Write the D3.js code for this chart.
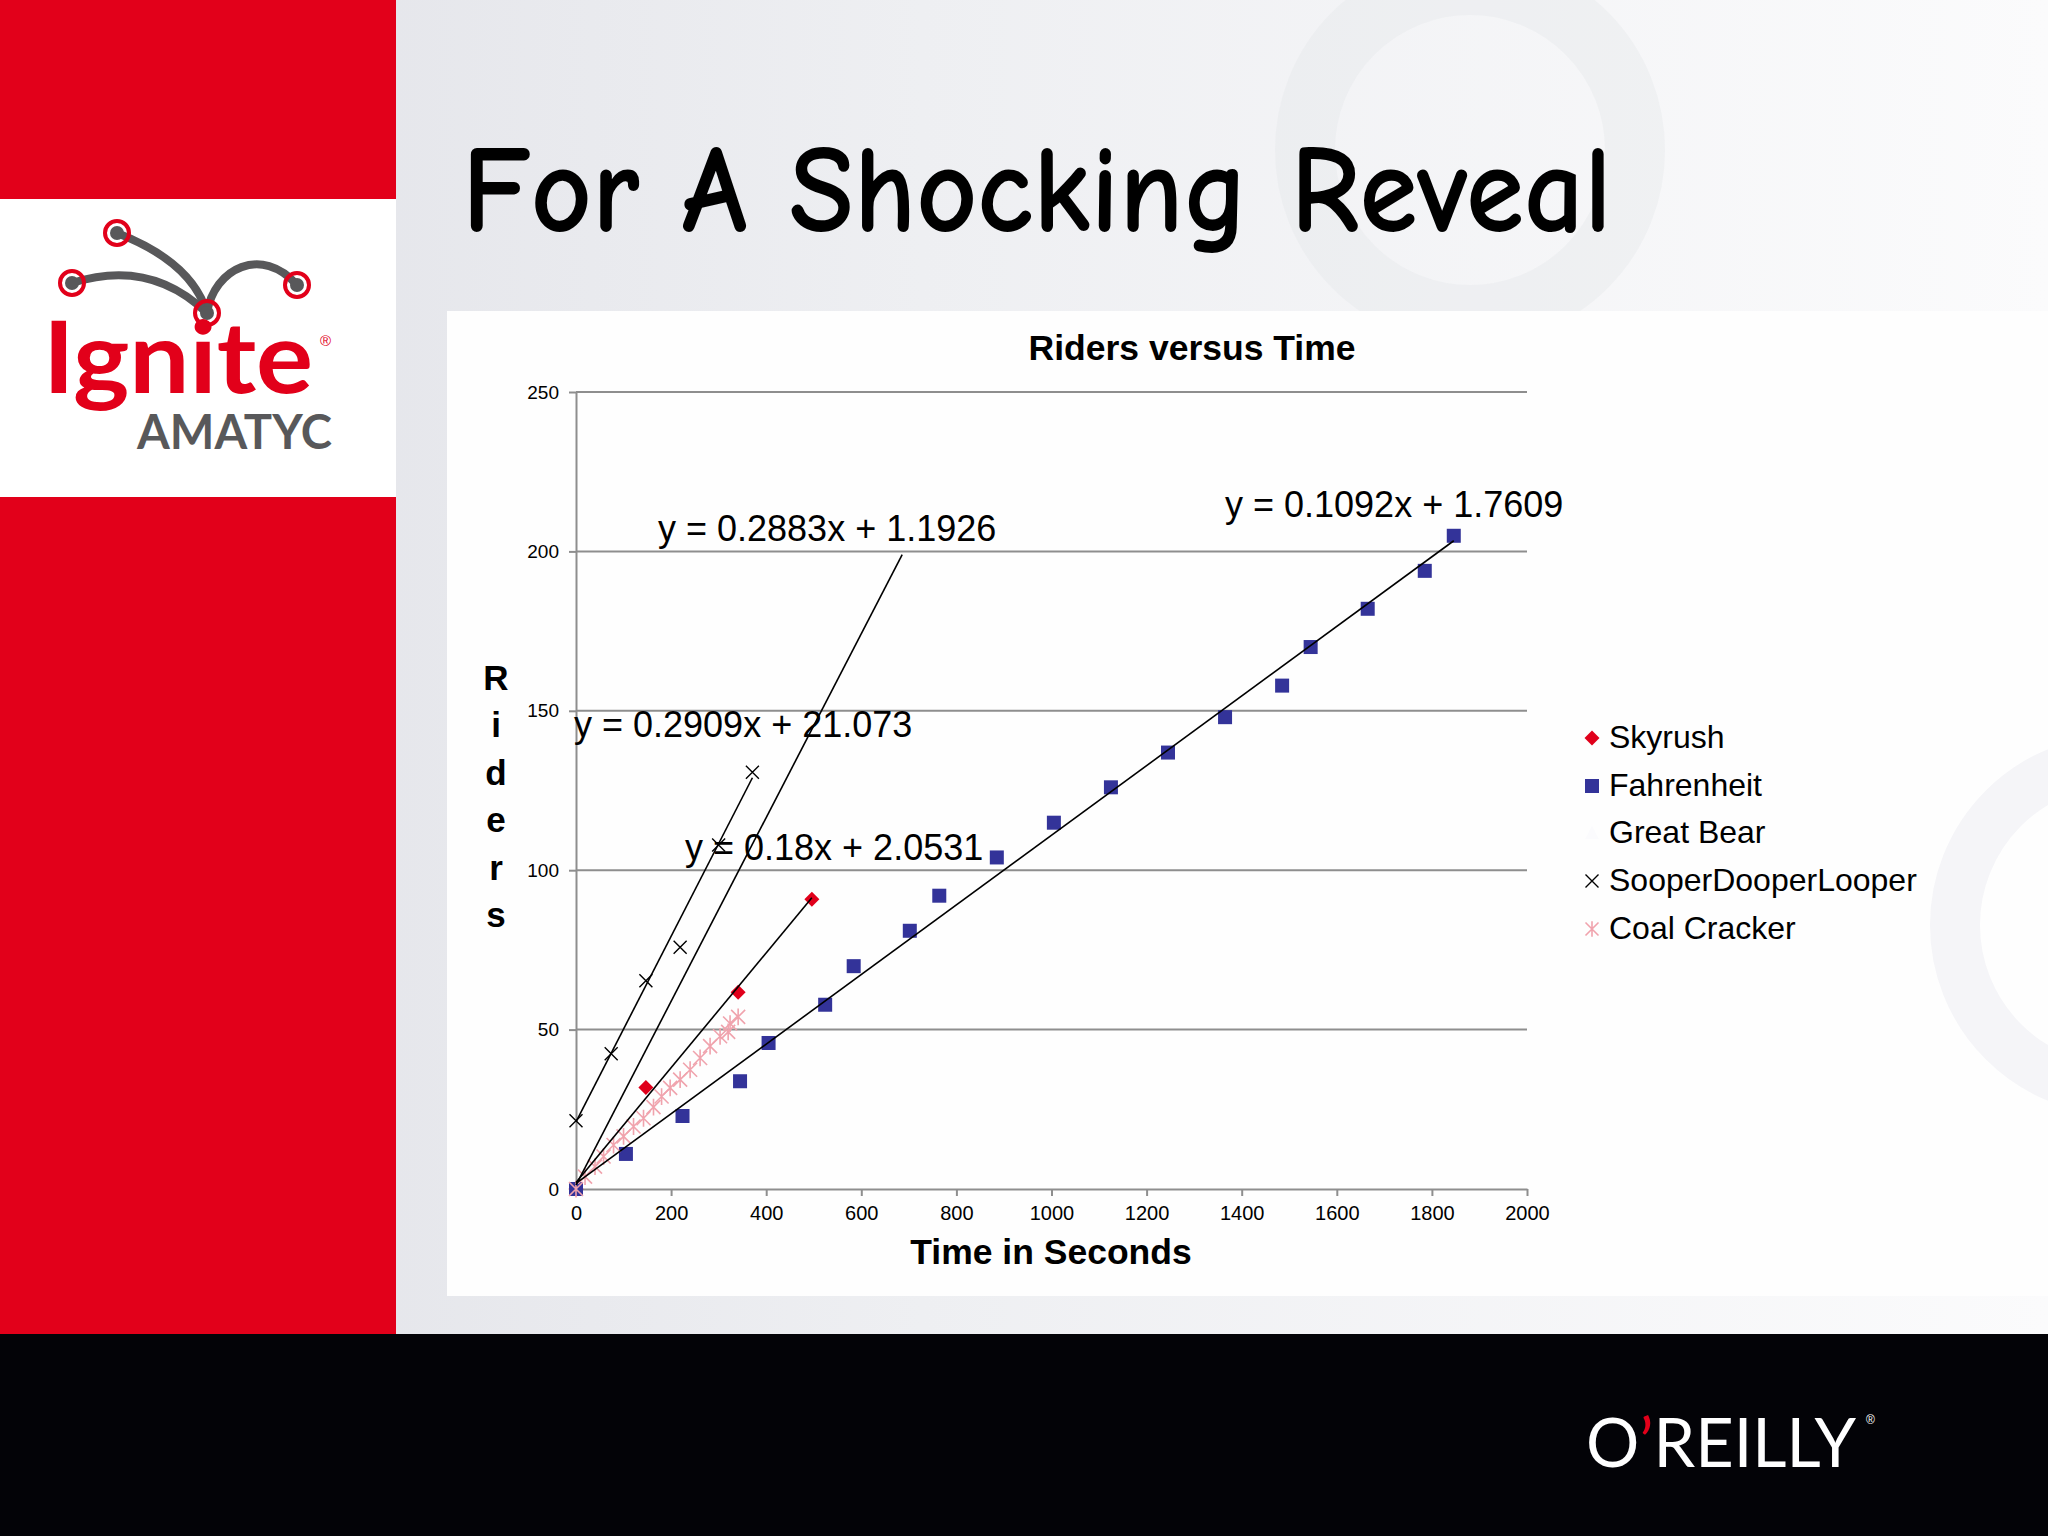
<!DOCTYPE html>
<html>
<head>
<meta charset="utf-8">
<script src="https://cdn.jsdelivr.net/npm/d3@7"></script>
<style>
  html, body { margin: 0; padding: 0; background: #ffffff; }
  svg { display: block; }
</style>
</head>
<body>
<svg id="slide" width="2048" height="1536"></svg>
<script>
// ---------------- DATA ----------------
const xTicks = [0, 200, 400, 600, 800, 1000, 1200, 1400, 1600, 1800, 2000];
const yTicks = [0, 50, 100, 150, 200, 250];

const seriesNames = ["Skyrush", "Fahrenheit", "Great Bear", "SooperDooperLooper", "Coal Cracker"];

const skyrushTime   = [0, 147, 341, 496];
const skyrushRiders = [0, 31.8, 61.7, 90.9];

const fahrenheitTime   = [0, 105, 224, 345, 405, 524, 584, 702, 764, 885, 1005, 1125, 1245, 1365, 1485, 1545, 1665, 1785, 1846];
const fahrenheitRiders = [0, 11, 22.9, 33.8, 45.8, 57.8, 69.9, 81, 92, 104, 114.9, 126, 136.9, 148, 157.9, 170, 182, 193.9, 204.9];

const looperTime   = [0, 74, 147, 219, 300, 371];
const looperRiders = [21.4, 42.4, 65.3, 75.8, 107.9, 130.7];

const coalTime   = [0, 19, 40, 58, 79, 100, 121, 142, 163, 180, 198, 219, 240, 261, 282, 303, 320, 324, 341];
const coalRiders = [0, 3.9, 7.0, 10.2, 13.8, 16.5, 19.6, 22.2, 25.7, 29.0, 31.7, 34.3, 37.4, 41.1, 44.8, 47.9, 49.3, 51.9, 54.0];

// trendlines: Skyrush, Fahrenheit, Great Bear, SooperDooperLooper
const trendSlopes     = [0.18, 0.1092, 0.2883, 0.2909];
const trendIntercepts = [2.0531, 1.7609, 1.1926, 21.073];
const trendXMin       = [0, 0, 0, 0];
const trendXMax       = [496, 1846, 686, 371];
const trendLabels     = ["y = 0.18x + 2.0531", "y = 0.1092x + 1.7609", "y = 0.2883x + 1.1926", "y = 0.2909x + 21.073"];

const slideTitle = "For A Shocking Reveal";
const chartTitle = "Riders versus Time";
const xTitle = "Time in Seconds";
const yTitle = "Riders";

// ---------------- DRAW ----------------
const svg = d3.select("#slide");
const ARIAL = "Arial, 'Liberation Sans', Helvetica, sans-serif";
const RED = "#e2001a";

const defs = svg.append("defs");
const bg = defs.append("linearGradient").attr("id", "bgGrad").attr("x1", "0").attr("x2", "1").attr("y1", "0").attr("y2", "0");
bg.append("stop").attr("offset", "0%").attr("stop-color", "#e0e1e7");
bg.append("stop").attr("offset", "45%").attr("stop-color", "#eeeff2");
bg.append("stop").attr("offset", "100%").attr("stop-color", "#fbfbfc");

// background
svg.append("rect").attr("x", 0).attr("y", 0).attr("width", 2048).attr("height", 1536).attr("fill", "url(#bgGrad)");
// faint decorative rings
svg.append("circle").attr("cx", 1470).attr("cy", 150).attr("r", 165).attr("fill", "none")
  .attr("stroke", "#e3e4e9").attr("stroke-width", 60).attr("opacity", 0.35);

// chart panel
svg.append("rect").attr("x", 447).attr("y", 311).attr("width", 1601).attr("height", 985).attr("fill", "#fefefe");
// faint arc on right of panel
svg.append("circle").attr("cx", 2120).attr("cy", 925).attr("r", 165).attr("fill", "none")
  .attr("stroke", "#f5f5f8").attr("stroke-width", 50);

// left red column with logo box
svg.append("rect").attr("x", 0).attr("y", 0).attr("width", 396).attr("height", 1334).attr("fill", RED);
svg.append("rect").attr("x", 0).attr("y", 199).attr("width", 396).attr("height", 298).attr("fill", "#ffffff");

// Ignite logo
const logo = svg.append("g");
const gray = "#58585a";
logo.append("path").attr("d", "M72,283 Q150,258 207,313").attr("fill", "none").attr("stroke", gray).attr("stroke-width", 8).attr("stroke-linecap", "round");
logo.append("path").attr("d", "M117,233 Q192,262 207,313").attr("fill", "none").attr("stroke", gray).attr("stroke-width", 8).attr("stroke-linecap", "round");
logo.append("path").attr("d", "M207,313 C214,268 262,245 297,285").attr("fill", "none").attr("stroke", gray).attr("stroke-width", 8).attr("stroke-linecap", "round");
[[117, 233], [72, 283], [297, 285], [207, 313]].forEach(p => {
  logo.append("circle").attr("cx", p[0]).attr("cy", p[1]).attr("r", 12).attr("fill", "none").attr("stroke", RED).attr("stroke-width", 4);
  logo.append("circle").attr("cx", p[0]).attr("cy", p[1]).attr("r", 7).attr("fill", gray);
});
logo.append("text").attr("x", 43).attr("y", 393).text("Ignite")
  .attr("font-family", "Lato, 'Open Sans', sans-serif").attr("font-size", 100).attr("font-weight", "bold").attr("fill", RED)
  .attr("textLength", 270).attr("lengthAdjust", "spacingAndGlyphs");
logo.append("text").attr("x", 320).attr("y", 346).text("®")
  .attr("font-family", ARIAL).attr("font-size", 15).attr("fill", RED);
logo.append("text").attr("x", 137).attr("y", 449).text("AMATYC")
  .attr("font-family", "Lato, 'Open Sans', sans-serif").attr("font-size", 47).attr("font-weight", "bold").attr("fill", gray)
  .attr("textLength", 195).attr("lengthAdjust", "spacingAndGlyphs");

// bottom black bar with O'REILLY
svg.append("rect").attr("x", 0).attr("y", 1334).attr("width", 2048).attr("height", 202).attr("fill", "#030307");
const ore = svg.append("text").attr("x", 1586).attr("y", 1467)
  .attr("font-family", "Lato, 'Open Sans', sans-serif").attr("font-size", 68).attr("fill", "#ffffff")
  .attr("textLength", 270).attr("lengthAdjust", "spacingAndGlyphs");
ore.append("tspan").text("O");
ore.append("tspan").attr("fill", RED).text("’");
ore.append("tspan").text("REILLY");
svg.append("text").attr("x", 1866).attr("y", 1424).text("®").attr("font-family", ARIAL).attr("font-size", 12).attr("fill", "#ffffff");

// slide title
svg.append("text").attr("x", 462).attr("y", 231).text(slideTitle)
  .attr("font-family", "'Comic Sans MS', 'Comic Neue', 'Noto Sans', sans-serif")
  .attr("font-size", 124).attr("font-weight", "bold").attr("fill", "#000")
  .attr("textLength", 1150).attr("lengthAdjust", "spacingAndGlyphs");

// ---------------- CHART ----------------
const x = d3.scaleLinear().domain([0, 2000]).range([576, 1527]);
const y = d3.scaleLinear().domain([0, 250]).range([1189, 392]);
const chart = svg.append("g");

// gridlines
chart.append("g").selectAll("line").data(yTicks.filter(d => d > 0)).join("line")
  .attr("x1", x(0)).attr("x2", x(2000)).attr("y1", d => y(d)).attr("y2", d => y(d))
  .attr("stroke", "#8e8e8e").attr("stroke-width", 2);

// y axis
const yAxis = chart.append("g").attr("transform", `translate(${x(0)},0)`)
  .call(d3.axisLeft(y).tickValues(yTicks).tickFormat(d3.format("d")).tickSize(7).tickPadding(10).tickSizeOuter(0));
yAxis.select(".domain").attr("stroke", "#8e8e8e").attr("stroke-width", 2);
yAxis.selectAll(".tick line").attr("stroke", "#8e8e8e").attr("stroke-width", 2);
yAxis.selectAll(".tick text").attr("font-family", ARIAL).attr("font-size", 19).attr("fill", "#000");

// x axis
const xAxis = chart.append("g").attr("transform", `translate(0,${y(0)})`)
  .call(d3.axisBottom(x).tickValues(xTicks).tickFormat(d3.format("d")).tickSize(7).tickPadding(10).tickSizeOuter(0));
xAxis.select(".domain").attr("stroke", "#8e8e8e").attr("stroke-width", 2);
xAxis.selectAll(".tick line").attr("stroke", "#8e8e8e").attr("stroke-width", 2);
xAxis.selectAll(".tick text").attr("font-family", ARIAL).attr("font-size", 20).attr("fill", "#000");

// titles
chart.append("text").attr("x", 1192).attr("y", 360).attr("text-anchor", "middle").text(chartTitle)
  .attr("font-family", ARIAL).attr("font-weight", "bold").attr("font-size", 35.5).attr("fill", "#000");
chart.append("text").attr("x", 1051).attr("y", 1264).attr("text-anchor", "middle").text(xTitle)
  .attr("font-family", ARIAL).attr("font-weight", "bold").attr("font-size", 35.5).attr("fill", "#000");
chart.append("g").selectAll("text").data(yTitle.split("")).join("text")
  .attr("x", 496).attr("y", (d, i) => 690 + i * 47.4).attr("text-anchor", "middle").text(d => d)
  .attr("font-family", ARIAL).attr("font-weight", "bold").attr("font-size", 35).attr("fill", "#000");

// markers
const markers = chart.append("g");
function drawSquare(g, cx, cy, s) {
  g.append("rect").attr("x", cx - s / 2).attr("y", cy - s / 2).attr("width", s).attr("height", s).attr("fill", "#333399");
}
function drawDiamond(g, cx, cy, s) {
  g.append("path").attr("d", `M${cx},${cy - s} L${cx + s},${cy} L${cx},${cy + s} L${cx - s},${cy} Z`).attr("fill", "#e0001b");
}
function drawX(g, cx, cy, s, color, w) {
  g.append("path").attr("d", `M${cx - s},${cy - s} L${cx + s},${cy + s} M${cx - s},${cy + s} L${cx + s},${cy - s}`)
    .attr("stroke", color).attr("stroke-width", w).attr("fill", "none");
}
function drawStar(g, cx, cy, s, color, w) {
  g.append("path").attr("d", `M${cx - s},${cy - s} L${cx + s},${cy + s} M${cx - s},${cy + s} L${cx + s},${cy - s} M${cx},${cy - s * 1.2} L${cx},${cy + s * 1.2}`)
    .attr("stroke", color).attr("stroke-width", w).attr("fill", "none");
}

// Skyrush diamonds
skyrushTime.forEach((t, i) => drawDiamond(markers, x(t), y(skyrushRiders[i]), 7.5));
// Fahrenheit squares
fahrenheitTime.forEach((t, i) => drawSquare(markers, x(t), y(fahrenheitRiders[i]), 14));
// Looper X
looperTime.forEach((t, i) => drawX(markers, x(t), y(looperRiders[i]), 6.5, "#000", 1.4));
// Coal Cracker (pink asterisks)
coalTime.forEach((t, i) => drawStar(markers, x(t), y(coalRiders[i]), 7, "#f0a3ad", 1.6));

// trendlines
const trends = chart.append("g");
trendSlopes.forEach((m, i) => {
  const x0 = trendXMin[i], x1 = trendXMax[i];
  trends.append("line")
    .attr("x1", x(x0)).attr("y1", y(m * x0 + trendIntercepts[i]))
    .attr("x2", x(x1)).attr("y2", y(m * x1 + trendIntercepts[i]))
    .attr("stroke", "#000").attr("stroke-width", 1.6);
});

// trendline equation labels: Skyrush, Fahrenheit, Great Bear, Looper
const labelPos = [[685, 860], [1225, 517], [658, 541], [574, 737]];
trendLabels.forEach((s, i) => {
  chart.append("text").attr("x", labelPos[i][0]).attr("y", labelPos[i][1]).text(s)
    .attr("font-family", ARIAL).attr("font-size", 36).attr("fill", "#000");
});

// legend
const legend = chart.append("g");
const legY = [748, 796, 843, 891, 939];
seriesNames.forEach((n, i) => {
  const cy = legY[i] - 10;
  if (i === 0) drawDiamond(legend, 1592, cy, 7.5);
  if (i === 1) drawSquare(legend, 1592, cy, 14);
  if (i === 2) legend.append("path").attr("d", `M1592,${cy - 7} L1599,${cy + 6} L1585,${cy + 6} Z`).attr("fill", "#fbfbfd");
  if (i === 3) drawX(legend, 1592, cy, 6.5, "#000", 1.4);
  if (i === 4) drawStar(legend, 1592, cy, 6.5, "#f0a3ad", 1.6);
  legend.append("text").attr("x", 1609).attr("y", legY[i]).text(n)
    .attr("font-family", ARIAL).attr("font-size", 32).attr("fill", "#000");
});
</script>
</body>
</html>
